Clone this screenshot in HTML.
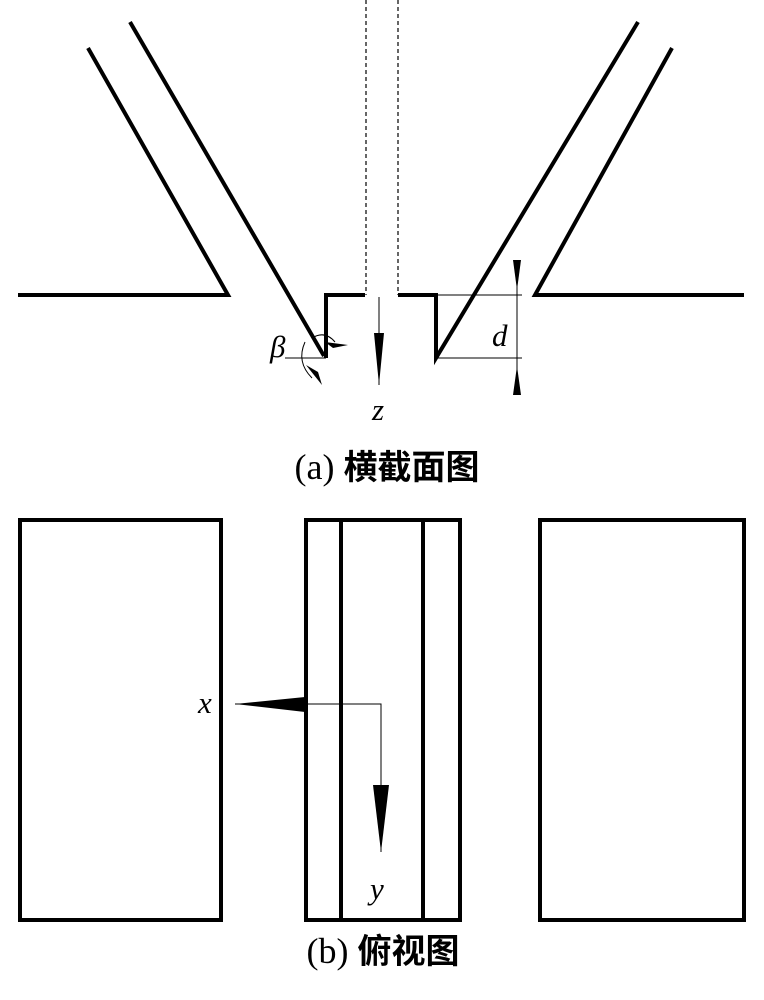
<!DOCTYPE html>
<html><head><meta charset="utf-8"><style>body{margin:0;background:#fff}svg{display:block}</style></head><body>
<svg width="764" height="1000" viewBox="0 0 764 1000" xmlns="http://www.w3.org/2000/svg">
<g stroke="#000" stroke-width="4" fill="none" stroke-linejoin="miter">
<polyline points="18,295 228,295 88,48"/>
<polyline points="130,22 324,356"/>
<polyline points="326,358 326,295 365,295"/>
<polyline points="398,295 436,295 436,358 638,22"/>
<polyline points="672,48 535,295 744,295"/>
<rect x="20" y="520" width="201" height="400"/>
<rect x="306" y="520" width="154" height="400"/>
<line x1="341" y1="520" x2="341" y2="920"/>
<line x1="423" y1="520" x2="423" y2="920"/>
<rect x="540" y="520" width="204" height="400"/>
</g>
<g stroke="#000" stroke-width="1.2" stroke-dasharray="4,3">
<line x1="366" y1="0" x2="366" y2="295"/>
<line x1="398" y1="0" x2="398" y2="295"/>
</g>
<g stroke="#000" stroke-width="1" fill="none">
<line x1="438" y1="295" x2="522" y2="295"/>
<line x1="438" y1="358" x2="522" y2="358"/>
<line x1="517" y1="260" x2="517" y2="395"/>
<line x1="285" y1="358" x2="326" y2="358"/>
<path d="M305,342 Q296,362 312,378"/>
<path d="M312,338 Q325,330 335,342"/>
<line x1="379" y1="297" x2="379" y2="385"/>
<polyline points="235,704 381,704 381,852"/>
</g>
<g fill="#000">
<polygon points="513,260 521,260 517,290"/>
<polygon points="513,395 521,395 517,366"/>
<polygon points="374,333 384,333 379,385"/>
<polygon points="325,342 348,345 333,348"/>
<polygon points="306,365 322,385 318,372"/>
<polygon points="235,704 305,697 305,712"/>
<polygon points="373,785 389,785 381,852"/>
</g>
<g font-family="Liberation Serif, serif" font-style="italic" font-size="31" fill="#000">
<text x="270" y="357">β</text>
<text x="492" y="346">d</text>
<text x="372" y="420">z</text>
<text x="198" y="713">x</text>
<text x="370" y="899">y</text>
</g>
<g font-family="Liberation Serif, 'Noto Serif CJK SC', serif" font-size="36" fill="#000" text-anchor="middle">
<text x="387" y="479">(a) <tspan font-family="'Noto Sans CJK SC', sans-serif" font-weight="bold" font-size="34">横截面图</tspan></text>
<text x="383" y="963">(b) <tspan font-family="'Noto Sans CJK SC', sans-serif" font-weight="bold" font-size="34">俯视图</tspan></text>
</g>
</svg>
</body></html>
